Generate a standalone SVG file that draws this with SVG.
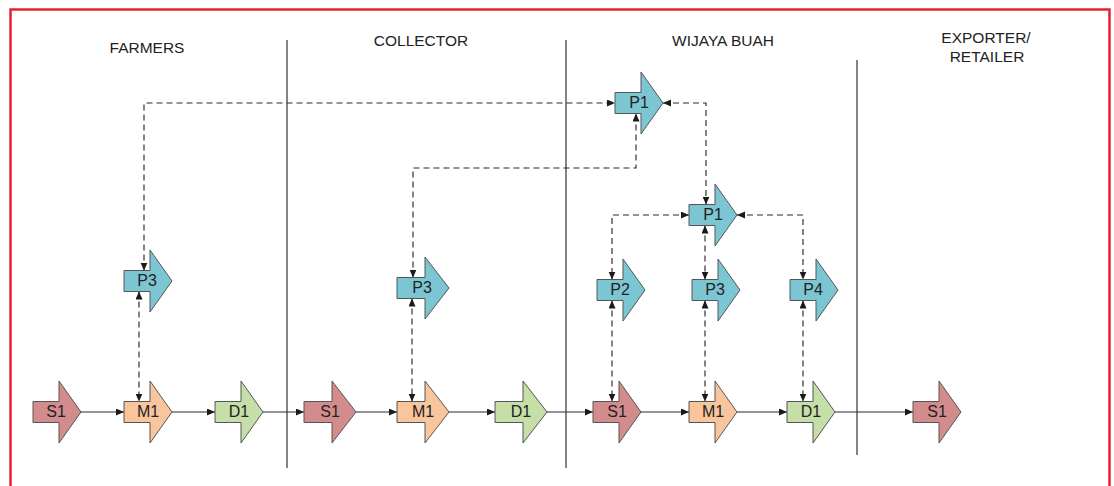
<svg xmlns="http://www.w3.org/2000/svg" xmlns:xlink="http://www.w3.org/1999/xlink" width="1114" height="486" viewBox="0 0 1114 486">
<style>
.hdr{font-family:"Liberation Sans",Arial,sans-serif;font-size:15.5px;fill:#222;text-anchor:middle}
.lbl{font-family:"Liberation Sans",Arial,sans-serif;font-size:16px;fill:#222;text-anchor:middle}
.shp{stroke:#555;stroke-width:1}
.s{fill:#D38C8C}
.m{fill:#F9C59C}
.d{fill:#C6DEA7}
.p{fill:#7CC6D4}
.div{stroke:#333;stroke-width:1.2;fill:none}
.sol{stroke:#2a2a2a;stroke-width:1.1;fill:none;marker-end:url(#ah)}
.dsh{stroke:#2a2a2a;stroke-width:1.15;fill:none;stroke-dasharray:6 4;marker-start:url(#ah);marker-end:url(#ah)}
</style>
<defs>
<path id="chev" d="M0,-10.5 H26 V-31 L48,0 L26,31 V10.5 H0 Z"/>
<path id="chevw" d="M0,-10.5 H28 V-31 L52,0 L28,31 V10.5 H0 Z"/>
<marker id="ah" markerUnits="userSpaceOnUse" markerWidth="9" markerHeight="8" refX="8" refY="3.5" orient="auto-start-reverse">
<path d="M0,0 L8,3.5 L0,7 Z" fill="#1a1a1a"/>
</marker>
</defs>
<rect x="0" y="0" width="1114" height="486" fill="#fff"/>
<rect x="10.5" y="9.5" width="1099" height="500" fill="none" stroke="#E3222C" stroke-width="2.5"/>

<g id="dividers">
<line class="div" x1="287" y1="40" x2="287" y2="468"/>
<line class="div" x1="566" y1="40" x2="566" y2="468"/>
<line class="div" x1="857" y1="60" x2="857" y2="455"/>
</g>

<g id="headers">
<text class="hdr" x="147" y="53">FARMERS</text>
<text class="hdr" x="421" y="46">COLLECTOR</text>
<text class="hdr" x="723" y="46">WIJAYA BUAH</text>
<text class="hdr" x="986" y="43">EXPORTER/</text>
<text class="hdr" x="987" y="62">RETAILER</text>
</g>

<g id="connectors">
<path class="sol" d="M81,412 H124"/>
<path class="sol" d="M172,412 H215"/>
<path class="sol" d="M263,412 H304"/>
<path class="sol" d="M356,412 H397"/>
<path class="sol" d="M449,412 H495"/>
<path class="sol" d="M547,412 H593"/>
<path class="sol" d="M641,412 H689"/>
<path class="sol" d="M737,412 H787"/>
<path class="sol" d="M835,412 H913"/>
<path class="dsh" d="M144,270.5 V103 H615"/>
<path class="dsh" d="M413,277.5 V168 H636 V113.5"/>
<path class="dsh" d="M663,103 H706 V204.5"/>
<path class="dsh" d="M689,215 H612 V279.5"/>
<path class="dsh" d="M737,215 H803 V279.5"/>
<path class="dsh" d="M705,225.5 V279.5"/>
<path class="dsh" d="M612,300.5 V401.5"/>
<path class="dsh" d="M705,300.5 V401.5"/>
<path class="dsh" d="M803,300.5 V401.5"/>
<path class="dsh" d="M139,291.5 V401.5"/>
<path class="dsh" d="M412,298.5 V401.5"/>
</g>

<g id="farmers-s1" transform="translate(33,412)"><use xlink:href="#chev" class="shp s"/><text class="lbl" x="23" y="5">S1</text></g>
<g id="farmers-m1" transform="translate(124,412)"><use xlink:href="#chev" class="shp m"/><text class="lbl" x="24" y="5">M1</text></g>
<g id="farmers-d1" transform="translate(215,412)"><use xlink:href="#chev" class="shp d"/><text class="lbl" x="24" y="5">D1</text></g>
<g id="farmers-p3" transform="translate(124,281)"><use xlink:href="#chev" class="shp p"/><text class="lbl" x="23" y="5">P3</text></g>

<g id="collector-s1" transform="translate(304,412)"><use xlink:href="#chevw" class="shp s"/><text class="lbl" x="26" y="5">S1</text></g>
<g id="collector-m1" transform="translate(397,412)"><use xlink:href="#chevw" class="shp m"/><text class="lbl" x="26" y="5">M1</text></g>
<g id="collector-d1" transform="translate(495,412)"><use xlink:href="#chevw" class="shp d"/><text class="lbl" x="26" y="5">D1</text></g>
<g id="collector-p3" transform="translate(397,288)"><use xlink:href="#chevw" class="shp p"/><text class="lbl" x="25" y="5">P3</text></g>

<g id="wijaya-s1" transform="translate(593,412)"><use xlink:href="#chev" class="shp s"/><text class="lbl" x="24" y="5">S1</text></g>
<g id="wijaya-m1" transform="translate(689,412)"><use xlink:href="#chev" class="shp m"/><text class="lbl" x="24" y="5">M1</text></g>
<g id="wijaya-d1" transform="translate(787,412)"><use xlink:href="#chev" class="shp d"/><text class="lbl" x="24" y="5">D1</text></g>
<g id="wijaya-p1-top" transform="translate(615,103)"><use xlink:href="#chev" class="shp p"/><text class="lbl" x="24" y="5">P1</text></g>
<g id="wijaya-p1" transform="translate(689,215)"><use xlink:href="#chev" class="shp p"/><text class="lbl" x="24" y="5">P1</text></g>
<g id="wijaya-p2" transform="translate(597,290)"><use xlink:href="#chev" class="shp p"/><text class="lbl" x="23" y="5">P2</text></g>
<g id="wijaya-p3" transform="translate(692,290)"><use xlink:href="#chev" class="shp p"/><text class="lbl" x="23" y="5">P3</text></g>
<g id="wijaya-p4" transform="translate(790,290)"><use xlink:href="#chev" class="shp p"/><text class="lbl" x="23" y="5">P4</text></g>

<g id="exporter-s1" transform="translate(913,412)"><use xlink:href="#chev" class="shp s"/><text class="lbl" x="24" y="5">S1</text></g>
</svg>
